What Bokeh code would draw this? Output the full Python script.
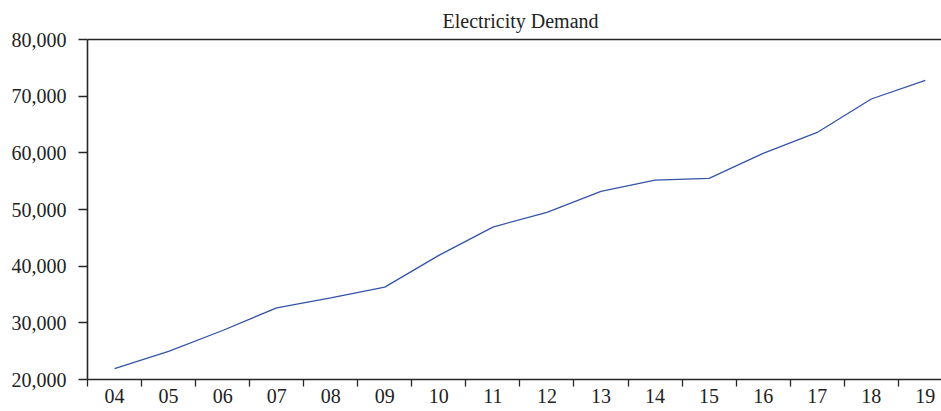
from bokeh.plotting import figure
from bokeh.models import (LinearAxis, FixedTicker, NumeralTickFormatter, Range1d)
from bokeh.embed import file_html
from bokeh.resources import INLINE

years = ["04", "05", "06", "07", "08", "09", "10", "11", "12", "13",
         "14", "15", "16", "17", "18", "19"]
demand = [21900, 24950, 28650, 32650, 34400, 36300, 41900, 46900,
          49500, 53200, 55200, 55500, 59900, 63600, 69500, 72800]
y_ticks = [20000, 30000, 40000, 50000, 60000, 70000, 80000]
title_text = "Electricity Demand"

FONT = "Liberation Serif"
AX = "#262626"

xs = [i + 0.5 for i in range(len(years))]

p = figure(width=941, height=411, output_backend="svg", toolbar_location=None,
           x_range=Range1d(0, 15.80), y_range=Range1d(20000, 80000),
           x_axis_type=None, y_axis_type=None,
           min_border_left=87, min_border_right=0, min_border_top=39,
           min_border_bottom=32)
p.outline_line_color = None
p.xgrid.visible = False
p.ygrid.visible = False
p.background_fill_color = "white"
p.border_fill_color = "white"

p.title.text = title_text
p.title.align = "left"
p.title.offset = 355
p.title.text_font = FONT
p.title.text_font_size = "20px"
p.title.text_font_style = "normal"
p.title.text_color = "#222222"
p.title.standoff = 15

p.line(xs, demand, line_color="#3553a8", line_width=1.3)

# bottom axis: labels at centres, ticks at boundaries
xa = LinearAxis(ticker=FixedTicker(ticks=xs, minor_ticks=list(range(len(years)))))
xa.major_label_overrides = {x: lab for x, lab in zip(xs, years)}
xa.major_tick_line_color = None
xa.major_tick_out = 7
xa.major_tick_in = 0
xa.minor_tick_out = 7
xa.minor_tick_in = 0
xa.minor_tick_line_color = AX
xa.minor_tick_line_width = 1.3
xa.axis_line_color = AX
xa.axis_line_width = 1.6
xa.major_label_text_font = FONT
xa.major_label_text_font_size = "20px"
xa.major_label_text_color = "#222222"
xa.major_label_standoff = 2
p.add_layout(xa, "below")

# left axis
ya = LinearAxis(ticker=FixedTicker(ticks=y_ticks, minor_ticks=[]),
                formatter=NumeralTickFormatter(format="0,0"))
ya.major_tick_out = 9
ya.major_tick_in = 0
ya.major_tick_line_color = AX
ya.major_tick_line_width = 1.3
ya.minor_tick_line_color = None
ya.axis_line_color = AX
ya.axis_line_width = 1.6
ya.major_label_text_font = FONT
ya.major_label_text_font_size = "20px"
ya.major_label_text_color = "#222222"
ya.major_label_standoff = 12
p.add_layout(ya, "left")

# top frame line
ta = LinearAxis(ticker=FixedTicker(ticks=[], minor_ticks=[]))
ta.major_label_text_font_size = "0px"
ta.major_tick_line_color = None
ta.minor_tick_line_color = None
ta.major_tick_out = 0
ta.major_label_standoff = 0
ta.axis_line_color = AX
ta.axis_line_width = 1.6
p.add_layout(ta, "above")

open("out.html", "w").write(file_html(p, INLINE))
